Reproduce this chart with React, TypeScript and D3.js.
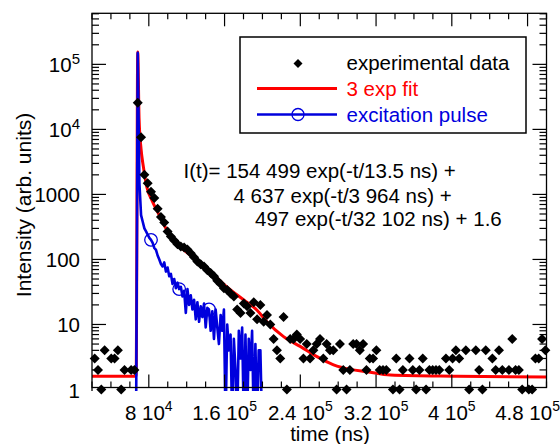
import React from "react";
import * as d3 from "d3";

// ---------- data ----------
// experimental data: regular time bins (ns) and photon counts (0 = empty bin, not shown on log axis)
const dataStart = 22820;
const dataStep = 3500;
const dataCounts = [
  3, 2, 1, 4, 0, 3, 3, 4, 1, 2, 0, 2, 2,
  25700, 7600, 2000, 1480, 1100, 880, 600, 450, 370, 270, 225, 195, 172, 158, 152, 142, 125, 108,
  93, 84, 78, 68, 62, 55, 47, 42, 36, 34, 30, 27, 17, 15, 21, 19, 15, 22, 12, 20, 11, 14, 10, 6, 4, 3,
  13, 1, 6, 6, 7, 6, 3, 5, 3, 4,
  5, 6, 3, 5, 4, 4, 1, 5, 2, 1,
  2, 5, 5, 4, 5, 2, 3, 3, 4, 2,
  2, 2, 0, 1, 3, 1, 2, 0, 3, 2,
  1, 2, 3, 1, 2, 2, 2, 2, 0, 3,
  2, 3, 4, 3, 0, 4, 1, 0, 4, 2,
  1, 4, 0, 3, 2, 4, 2, 0, 2, 6,
  2, 2, 1, 0, 1, 1, 3, 3, 6, 4,
];

// 3 exponential fit
const fitTimes = [20000, 66600, 68300, 69700, 71800, 74200, 77800, 83100, 89800, 99000, 113000, 130700,
  144800, 162400, 180000, 194100, 204700, 222300, 239900, 257600, 275100, 292800, 310400, 335100, 405600, 500000];
const fitValues = [1.6, 1.6, 155000, 15000, 5000, 2700, 1320, 820, 520, 284, 158, 98,
  65, 38, 24, 16.7, 11, 6.5, 4.6, 3.2, 2.4, 2.04, 1.88, 1.67, 1.6, 1.55];

// excitation pulse
const pulseStart = 64820;
const pulseStep = 1750;
const pulseValues = [
  0, 0, 150000, 1500, 480, 380, 300, 270, 240, 215, 200, 180, 150, 140, 115, 100, 85, 78, 90, 65,
  75, 55, 60, 42, 50, 36, 44, 35, 38, 27, 33, 15, 35, 20, 28, 17, 24, 12, 22, 11,
  19, 13, 21, 9, 18, 17, 8, 16, 6, 17, 9, 5, 14, 8, 17, 0, 10, 4, 7, 0,
  6, 2, 0, 8, 3, 9, 0, 7, 0, 6, 2, 8, 0, 5, 0, 4, 4, 0,
];
const pulseMarkerIdx = [10, 27, 45];

// axes
const xTickValues = [80000, 160000, 240000, 320000, 400000, 480000];
const xTickMantissa = ["8", "1.6", "2.4", "3.2", "4", "4.8"];
const xTickExponent = ["4", "5", "5", "5", "5", "5"];
const yTickValues = [1, 10, 100, 1000, 10000, 100000];
const yTickBase = ["1", "10", "100", "1000", "10", "10"];
const yTickExponent = ["", "", "", "", "4", "5"];

const equationLines = [
  "I(t)= 154 499 exp(-t/13.5 ns) +",
  "4 637 exp(-t/3 964 ns) +",
  "497 exp(-t/32 102 ns) + 1.6",
];

const FONT = "'Liberation Sans', Arial, Helvetica, sans-serif";
const BLUE = "#0000dd";
const RED = "#ff0000";

export default function App() {
  const L = 92, T = 13.3, R = 546.5, B = 387.5;
  const x = d3.scaleLinear().domain([20000, 500000]).range([L, R]);
  const y = d3.scaleLog().domain([1, 6.1e5]).range([389.5, T]);

  const dataPts = dataCounts
    .map((c, i) => ({ t: dataStart + dataStep * i, c }))
    .filter((d) => d.c > 0);

  const fitLine = d3
    .line<number>()
    .x((_, i) => x(fitTimes[i]))
    .y((v) => y(v))
    .curve(d3.curveMonotoneX)(fitValues) as string;

  const pulseLine = d3
    .line<number>()
    .x((_, i) => x(pulseStart + pulseStep * i))
    .y((v) => y(Math.max(v, 0.3)))(pulseValues) as string;

  const diamond = (r: number) => `M0,${-r}L${r},0L0,${r}L${-r},0Z`;

  const yAllTicks = y.ticks().filter((v) => v <= 6.1e5);
  const isMajorY = (v: number) => Math.abs(Math.log10(v) - Math.round(Math.log10(v))) < 1e-9;
  const xAllTicks = d3.range(20000, 500001, 20000);

  return (
    <svg width={560} height={444} style={{ display: "block", position: "absolute", left: 0, top: 0 }} fontFamily={FONT}>
      <defs>
        <clipPath id="plotclip">
          <rect x={L} y={T} width={R - L} height={391 - T} />
        </clipPath>
      </defs>
      <rect x={0} y={0} width={560} height={444} fill="#fff" />

      {/* traces */}
      <g clipPath="url(#plotclip)">
        <path d={fitLine} fill="none" stroke={RED} strokeWidth={3} />
        <path d={pulseLine} fill="none" stroke={BLUE} strokeWidth={2.6} strokeLinejoin="round" />
        {pulseMarkerIdx.map((j) => (
          <circle key={j} cx={x(pulseStart + pulseStep * j)} cy={y(pulseValues[j])} r={6.3}
            fill="none" stroke={BLUE} strokeWidth={1.3} />
        ))}
      </g>
      {dataPts.map((d, i) => (
        <path key={i} d={diamond(5)} transform={`translate(${x(d.t)},${y(d.c)})`} fill="#000" />
      ))}

      {/* frame */}
      <rect x={L} y={T} width={R - L} height={B - T} fill="none" stroke="#000" strokeWidth={1.3} />
      <line x1={L} x2={L} y1={B} y2={391} stroke="#000" strokeWidth={1.3} />

      {/* y ticks */}
      {yAllTicks.map((v, i) => {
        const len = isMajorY(v) ? 14 : 7;
        const yy = y(v);
        if (yy > B + 0.5) return null;
        return (
          <g key={i}>
            <line x1={L} x2={L + len} y1={yy} y2={yy} stroke="#000" strokeWidth={1.2} />
            <line x1={R} x2={R - len} y1={yy} y2={yy} stroke="#000" strokeWidth={1.2} />
          </g>
        );
      })}
      {yTickValues.map((v, i) => (
        <text key={i} x={80} y={y(v) + 8} textAnchor="end" fontSize={20.5} fill="#000">
          {yTickBase[i]}
          {yTickExponent[i] && (
            <tspan dy={-8} fontSize={15}>{yTickExponent[i]}</tspan>
          )}
        </text>
      ))}

      {/* x ticks */}
      {xAllTicks.map((t, i) => {
        const major = t % 80000 === 0;
        const len = major ? 13 : 6;
        const xx = x(t);
        return (
          <g key={i}>
            <line x1={xx} x2={xx} y1={B} y2={B - len} stroke="#000" strokeWidth={1.2} />
            <line x1={xx} x2={xx} y1={T} y2={T + len} stroke="#000" strokeWidth={1.2} />
          </g>
        );
      })}
      {xTickValues.map((t, i) => (
        <text key={i} x={x(t)} y={420} textAnchor="middle" fontSize={20.5} fill="#000">
          {xTickMantissa[i] + " 10"}
          <tspan dy={-9} fontSize={14}>{xTickExponent[i]}</tspan>
        </text>
      ))}

      {/* axis titles */}
      <text x={330} y={441} textAnchor="middle" fontSize={20.5} fill="#000">time (ns)</text>
      <text transform="translate(31,205) rotate(-90)" textAnchor="middle" fontSize={21} fill="#000">
        Intensity (arb. units)
      </text>

      {/* legend */}
      <rect x={240} y={37} width={286} height={96} fill="#fff" stroke="#000" strokeWidth={1.5} />
      <path d={diamond(4.5)} transform="translate(298,63.5)" fill="#000" />
      <text x={346.5} y={70} fontSize={20.5} fill="#000">experimental data</text>
      <line x1={257} x2={337} y1={88.5} y2={88.5} stroke={RED} strokeWidth={3} />
      <text x={346.5} y={95.5} fontSize={20.5} fill={RED}>3 exp fit</text>
      <line x1={257} x2={337} y1={114.5} y2={114.5} stroke={BLUE} strokeWidth={2.6} />
      <circle cx={298} cy={114.5} r={6} fill="none" stroke={BLUE} strokeWidth={1.3} />
      <text x={346.5} y={121.5} fontSize={20.5} fill={BLUE}>excitation pulse</text>

      {/* equation */}
      <text x={183.5} y={178} fontSize={20.5} fill="#000">{equationLines[0]}</text>
      <text x={233.5} y={202.5} fontSize={20.5} fill="#000">{equationLines[1]}</text>
      <text x={255} y={226} fontSize={20.5} fill="#000">{equationLines[2]}</text>
    </svg>
  );
}
